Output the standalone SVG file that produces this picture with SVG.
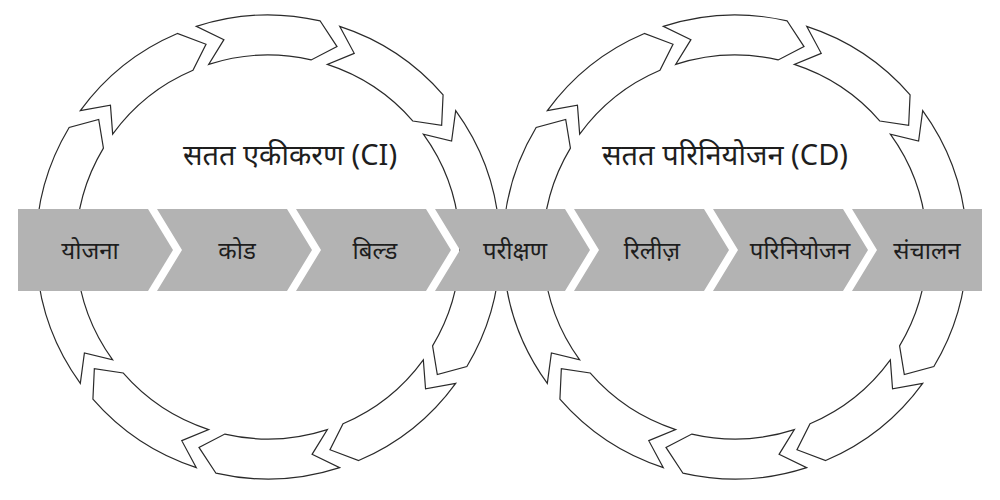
<svg xmlns="http://www.w3.org/2000/svg" xmlns:xlink="http://www.w3.org/1999/xlink" width="1000" height="500" viewBox="0 0 1000 500">
<style>
.seg{fill:#fff;stroke:#2a2a2a;stroke-width:1.2;stroke-linejoin:miter}
.band{fill:#b3b3b3}
.lbl{font-family:"Noto Sans","Noto Sans Devanagari",sans-serif;font-size:24px;fill:#1e1e1e;text-anchor:middle}
.ttl{font-family:"Noto Sans","Noto Sans Devanagari",sans-serif;font-size:29px;fill:#1e1e1e;text-anchor:middle}
</style>
<defs>
<path id="seg" class="seg" d="M232,0 A232,232 0 0 1 198.87,119.48 L169.3,127.58 L164.58,98.88 A192,192 0 0 0 192,0 L210.84,22.16 Z"/>
</defs>
<rect width="1000" height="500" fill="#fff"/>
<g id="connectors">
<g id="ring-ci" transform="translate(268,247)">
<use xlink:href="#seg" transform="rotate(0)"/><use xlink:href="#seg" transform="rotate(36)"/><use xlink:href="#seg" transform="rotate(72)"/><use xlink:href="#seg" transform="rotate(108)"/><use xlink:href="#seg" transform="rotate(144)"/><use xlink:href="#seg" transform="rotate(180)"/><use xlink:href="#seg" transform="rotate(216)"/><use xlink:href="#seg" transform="rotate(252)"/><use xlink:href="#seg" transform="rotate(288)"/><use xlink:href="#seg" transform="rotate(324)"/>
</g>
<g id="ring-cd" transform="translate(735,247)">
<use xlink:href="#seg" transform="rotate(0)"/><use xlink:href="#seg" transform="rotate(36)"/><use xlink:href="#seg" transform="rotate(72)"/><use xlink:href="#seg" transform="rotate(108)"/><use xlink:href="#seg" transform="rotate(144)"/><use xlink:href="#seg" transform="rotate(180)"/><use xlink:href="#seg" transform="rotate(216)"/><use xlink:href="#seg" transform="rotate(252)"/><use xlink:href="#seg" transform="rotate(288)"/><use xlink:href="#seg" transform="rotate(324)"/>
</g>
</g>
<text class="ttl" x="290" y="165">सतत एकीकरण (CI)</text>
<text class="ttl" x="725" y="165">सतत परिनियोजन (CD)</text>
<g id="n1"><polygon class="band" points="18,209 148,209 173,250 148,291 18,291"/><text class="lbl" x="90" y="259">योजना</text></g>
<g id="n2"><polygon class="band" points="157,209 287,209 312,250 287,291 157,291 182,250"/><text class="lbl" x="237" y="259">कोड</text></g>
<g id="n3"><polygon class="band" points="296,209 426,209 451,250 426,291 296,291 321,250"/><text class="lbl" x="375" y="259">बिल्ड</text></g>
<g id="n4"><polygon class="band" points="435,209 565,209 590,250 565,291 435,291 460,250"/><text class="lbl" x="515" y="259">परीक्षण</text></g>
<g id="n5"><polygon class="band" points="574,209 704,209 729,250 704,291 574,291 599,250"/><text class="lbl" x="652" y="259">रिलीज़</text></g>
<g id="n6"><polygon class="band" points="713,209 843,209 868,250 843,291 713,291 738,250"/><text class="lbl" x="800" y="259">परिनियोजन</text></g>
<g id="n7"><polygon class="band" points="852,209 982,209 982,291 852,291 877,250"/><text class="lbl" x="927" y="259">संचालन</text></g>
</svg>
